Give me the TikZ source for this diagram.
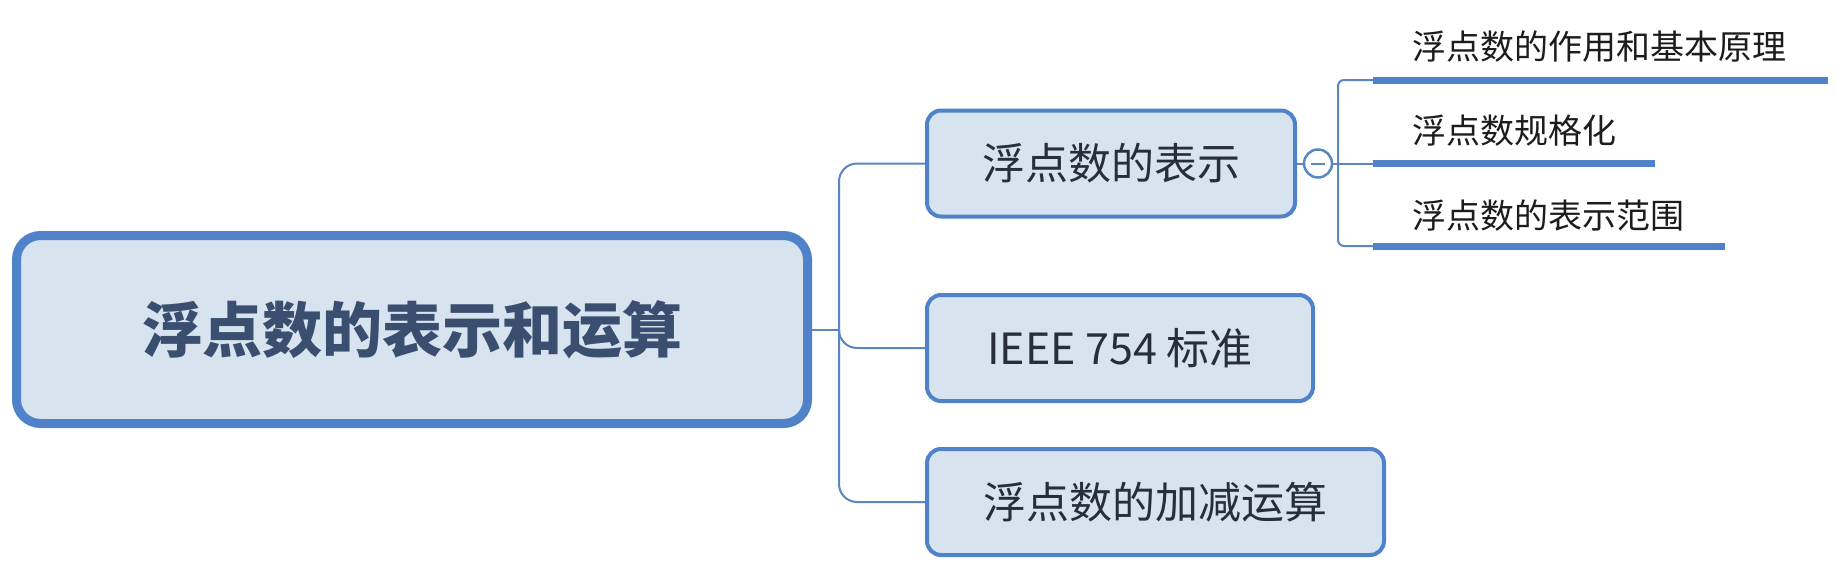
\documentclass[tikz,border=0pt]{standalone}
\usepackage{fontspec}
\setmainfont{Noto Sans CJK SC}
\definecolor{bord}{HTML}{4F82C8}
\definecolor{boxfill}{HTML}{D8E3F0}
\definecolor{linec}{HTML}{5A86C2}
\definecolor{roottext}{HTML}{3A4E70}
\definecolor{childtext}{HTML}{262E3B}
\definecolor{subtextc}{HTML}{1C1C1C}
\tikzset{
 rootbox/.style={draw=bord, fill=boxfill, line width=9pt, rounded corners=24pt, minimum width=791pt, minimum height=188pt, text=roottext, font=\fontsize{60}{60}\selectfont\bfseries},
 childbox/.style={draw=bord, fill=boxfill, line width=4pt, rounded corners=14pt, minimum height=106pt, text=childtext, font=\fontsize{43}{43}\selectfont},
 conn/.style={draw=linec, line width=2pt, rounded corners=18pt},
 subconn/.style={draw=linec, line width=2pt, rounded corners=6pt},
 bar/.style={draw=bord, line width=7pt},
 subtext/.style={text=subtextc, font=\fontsize{34}{34}\selectfont, inner sep=0pt, anchor=west},
}
\begin{document}
\begin{tikzpicture}[x=1pt,y=-1pt]
\useasboundingbox (0,0) rectangle (1837,568);
\fill[white] (0,0) rectangle (1837,568);
% main nodes
\node[rootbox] (root) at (412,329.5) {浮点数的表示和运算};
\node[childbox, minimum width=368pt] (c1) at (1111,163.5) {浮点数的表示};
\node[childbox, minimum width=386pt] (c2) at (1120,348) {IEEE 754 标准};
\node[childbox, minimum width=457pt] (c3) at (1155.5,502) {浮点数的加减运算};
\coordinate (trunk) at (839,329.5);
\draw[conn] (root.east) -- (trunk);
\draw[conn] (trunk) |- (c1.west);
\draw[conn] (trunk) |- (c2.west);
\draw[conn] (trunk) |- (c3.west);
% toggle
\node[circle, draw=linec, fill=white, line width=2.5pt, minimum size=28pt, inner sep=0pt,
  path picture={\draw[linec, line width=2pt] ([xshift=-7pt]path picture bounding box.center) -- ([xshift=7pt]path picture bounding box.center);}] (tog) at (1318,163.5) {};
\draw[conn] (c1.east) -- (tog.west);
\coordinate (st) at (1338,163.5);
\draw[subconn] (tog.east) -- (st);
% subtopics
\coordinate (b1s) at (1373,80);
\coordinate (b1e) at (1828,80);
\coordinate (b2s) at (1373,163.5);
\coordinate (b2e) at (1655,163.5);
\coordinate (b3s) at (1373,246);
\coordinate (b3e) at (1725,246);
\draw[subconn] (st) |- (b1s);
\draw[subconn] (st) -- (b2s);
\draw[subconn] (st) |- (b3s);
\draw[bar] (b1s) -- (b1e);
\draw[bar] (b2s) -- (b2e);
\draw[bar] (b3s) -- (b3e);
\node[subtext] (s1) at (1412,47) {浮点数的作用和基本原理};
\node[subtext] (s2) at (1412,131) {浮点数规格化};
\node[subtext] (s3) at (1412,216) {浮点数的表示范围};
\end{tikzpicture}
\end{document}
